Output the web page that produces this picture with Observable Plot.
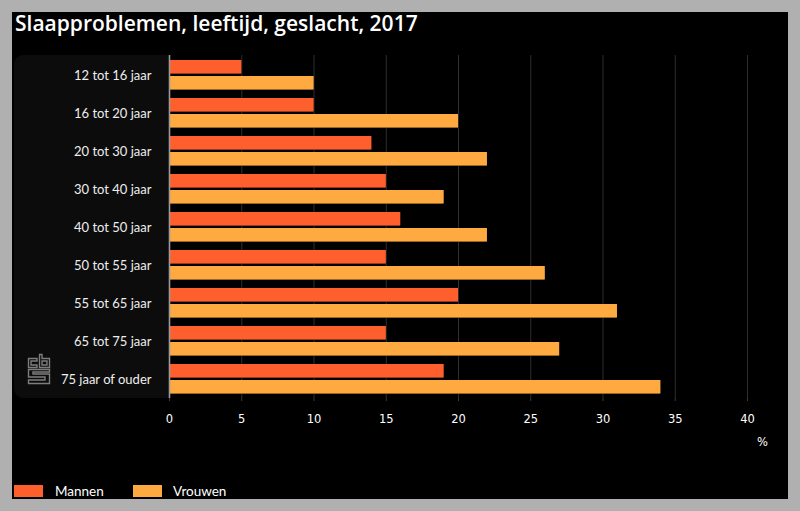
<!DOCTYPE html>
<html>
<head>
<meta charset="utf-8">
<script src="https://cdn.jsdelivr.net/npm/d3@7"></script>
<script src="https://cdn.jsdelivr.net/npm/@observablehq/plot@0.6"></script>
<style>
  html, body { margin: 0; padding: 0; }
  body { width: 800px; height: 511px; background: #b0b0b0; position: relative; overflow: hidden; }
  #frame { position: absolute; left: 12px; top: 12px; width: 776px; height: 487px; background: #000; overflow: hidden; }
  #title { position: absolute; left: 15px; top: 10px; line-height: 26px; font-family: "Open Sans", sans-serif; font-weight: 600; font-size: 21px; color: #fff; white-space: nowrap; z-index: 2; }
  #panel { position: absolute; left: 2px; top: 43px; width: 155px; height: 343px; background: #0c0c0c; border-radius: 9px 0 0 9px; }
  #logo { position: absolute; left: 14px; top: 341px; }
  #chart { position: absolute; left: 0; top: 0; }
  #unit { position: absolute; left: 745px; top: 423px; font-family: "DejaVu Sans", sans-serif; font-size: 11.5px; color: #fff; }
  .leg { position: absolute; top: 472px; font-family: Lato, sans-serif; font-size: 13.5px; color: #fff; line-height: 14px; }
  .sw { position: absolute; top: 473px; width: 29px; height: 12px; }
</style>
</head>
<body>
<div id="title">Slaapproblemen, leeftijd, geslacht, 2017</div>
<div id="frame">
  <div id="panel"></div>
  <svg id="logo" width="26" height="32" viewBox="0 0 26 32">
    <g fill="none" stroke="#7d7d7d" stroke-width="1.4">
      <path d="M11 5.5 H2.5 V14.5 H11 V12 H5 V8 H11 Z"/>
      <path d="M13.5 1.5 H16 V5.5 H23.5 V14.5 H13.5 Z M16 8 V12 H21 V8 Z"/>
      <path d="M23.5 16.5 H2.5 V24 H19 V27 H2.5 V30.5 H23.5 V21 H7 V19 H23.5 Z"/>
    </g>
  </svg>
  <div id="unit">%</div>
  <div class="sw" style="left:2px;background:#ff5e2d"></div>
  <div class="leg" style="left:43px">Mannen</div>
  <div class="sw" style="left:121px;background:#ffaa40"></div>
  <div class="leg" style="left:161px">Vrouwen</div>
</div>
<script>
const categories = ["12 tot 16 jaar", "16 tot 20 jaar", "20 tot 30 jaar", "30 tot 40 jaar", "40 tot 50 jaar", "50 tot 55 jaar", "55 tot 65 jaar", "65 tot 75 jaar", "75 jaar of ouder"];
const mannen = [5, 10, 14, 15, 16, 15, 20, 15, 19];
const vrouwen = [10, 20, 22, 19, 22, 26, 31, 27, 34];
const series = ["Mannen", "Vrouwen"];
const colors = ["#ff5e2d", "#ffaa40"];
const shadowColors = ["#9a3a1c", "#9a6526"];
const xTicks = [0, 5, 10, 15, 20, 25, 30, 35, 40];

const rowsM = categories.map((c, i) => ({categorie: c, geslacht: series[0], waarde: mannen[i]}));
const rowsV = categories.map((c, i) => ({categorie: c, geslacht: series[1], waarde: vrouwen[i]}));

const chart = Plot.plot({
  width: 776,
  height: 450,
  marginTop: 43,
  marginBottom: 64,
  marginLeft: 157,
  marginRight: 41,
  style: {background: "transparent", color: "#fff", fontFamily: "Lato, sans-serif"},
  x: {domain: [0, 40]},
  y: {domain: categories, padding: 0},
  color: {domain: series, range: colors},
  marks: [
    Plot.gridX(xTicks, {stroke: "#2e2e2e", strokeOpacity: 1}),
    Plot.axisX(xTicks, {tickSize: 3, tickPadding: 13, stroke: "#3a3a3a", fill: "#fff", fontSize: 11.5, fontFamily: "DejaVu Sans, sans-serif", label: null}),
    Plot.axisY({tickSize: 0, tickPadding: 18, fill: "#eee", fontSize: 13, label: null}),
    Plot.barX(rowsM, {x: "waarde", y: "categorie", fill: shadowColors[0], insetTop: 4, insetBottom: 20}),
    Plot.barX(rowsV, {x: "waarde", y: "categorie", fill: shadowColors[1], insetTop: 20, insetBottom: 4}),
    Plot.barX(rowsM, {x: "waarde", y: "categorie", fill: "geslacht", insetTop: 4, insetBottom: 21}),
    Plot.barX(rowsV, {x: "waarde", y: "categorie", fill: "geslacht", insetTop: 20, insetBottom: 5}),
    Plot.ruleX([0], {stroke: "#9a9a9a", strokeWidth: 1.6})
  ]
});
chart.id = "chart";
document.getElementById("frame").appendChild(chart);
</script>
</body>
</html>
